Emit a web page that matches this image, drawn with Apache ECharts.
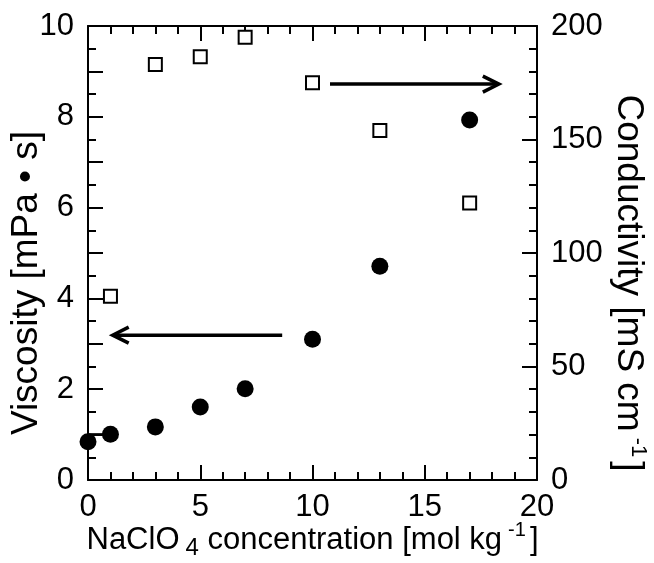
<!DOCTYPE html>
<html>
<head>
<meta charset="utf-8">
<script src="https://cdn.jsdelivr.net/npm/echarts@6/dist/echarts.min.js"></script>
<style>
html,body{margin:0;padding:0;background:#fff;}
#chart{width:654px;height:563px;}
</style>
</head>
<body>
<div id="chart"></div>
<script>
// ---- data ----
const viscosityX = [0, 1, 3, 5, 7, 10, 13, 17];
const viscosity = [0.84, 1.01, 1.17, 1.61, 2.01, 3.10, 4.71, 7.93];
const conductivityX = [1, 3, 5, 7, 10, 13, 17];
const conductivity = [81, 183, 186.5, 195, 175, 154, 122];
const connectorX = [0, 1];
const connectorY = [1.01, 1.01];
// arrows: [x start, y start, x end (tip), y end] on viscosity axis
const arrowToLeft = [8.65, 3.19, 1.1, 3.19];
const arrowToRight = [10.78, 8.72, 18.3, 8.72];
const xTicks = [0, 5, 10, 15, 20];
const yLeftTicks = [0, 2, 4, 6, 8, 10];
const yRightTicks = [0, 50, 100, 150, 200];

const FONT = 'Liberation Sans, Arial, sans-serif';
const chart = echarts.init(document.getElementById('chart'));

const axisCommon = {
  axisLine: {show: true, onZero: false, lineStyle: {color: '#000', width: 2}},
  axisTick: {show: true, inside: true, length: 15, lineStyle: {color: '#000', width: 2}},
  minorTick: {show: true, length: 8, lineStyle: {color: '#000', width: 2}},
  splitLine: {show: false},
  minorSplitLine: {show: false},
  nameMoveOverlap: false
};

const pair = (xs, ys) => xs.map((x, i) => [x, ys[i]]);

function renderArrow(params, api) {
  const p1 = api.coord([api.value(0), api.value(1)]);
  const p2 = api.coord([api.value(2), api.value(3)]);
  const dx = p2[0] - p1[0], dy = p2[1] - p1[1];
  const len = Math.sqrt(dx * dx + dy * dy);
  const ux = dx / len, uy = dy / len;
  const hl = 16, hw = 8;
  const b1 = [p2[0] - ux * hl - uy * hw, p2[1] - uy * hl + ux * hw];
  const b2 = [p2[0] - ux * hl + uy * hw, p2[1] - uy * hl - ux * hw];
  const style = {stroke: '#000', lineWidth: 3.5, fill: null};
  return {
    type: 'group',
    children: [
      {type: 'line', shape: {x1: p1[0], y1: p1[1], x2: p2[0] - ux * 1.5, y2: p2[1]}, style: style},
      {type: 'polyline', shape: {points: [b1, p2, b2]}, style: style}
    ]
  };
}

const option = {
  backgroundColor: '#fff',
  animation: false,
  textStyle: {fontFamily: FONT},
  grid: {left: 88, right: 117, top: 26, bottom: 83, containLabel: false, outerBoundsMode: 'none'},
  xAxis: [
    Object.assign({}, axisCommon, {
      type: 'value', min: 0, max: 20, interval: 5, position: 'bottom',
      minorTick: Object.assign({}, axisCommon.minorTick, {splitNumber: 5}),
      axisLabel: {color: '#000', fontSize: 31, fontFamily: FONT, margin: 12,
        formatter: v => xTicks.includes(v) ? String(v) : ''},
      name: '{a|NaClO}{sub|4}{a| concentration [mol kg}{sup|-1}{a|]}',
      nameLocation: 'middle', nameGap: 40,
      nameTextStyle: {
        color: '#000', fontFamily: FONT,
        rich: {
          a: {fontSize: 31, fontFamily: FONT, color: '#000', lineHeight: 40, verticalAlign: 'middle'},
          sub: {fontSize: 24, fontFamily: FONT, color: '#000', lineHeight: 24, verticalAlign: 'bottom', padding: [0, 0, 0, 6]},
          sup: {fontSize: 20, fontFamily: FONT, color: '#000', lineHeight: 20, verticalAlign: 'top', padding: [0, 4, 0, 6]}
        }
      }
    }),
    Object.assign({}, axisCommon, {
      type: 'value', min: 0, max: 20, interval: 5, position: 'top',
      minorTick: Object.assign({}, axisCommon.minorTick, {splitNumber: 5}),
      axisLabel: {show: false}
    })
  ],
  yAxis: [
    Object.assign({}, axisCommon, {
      type: 'value', min: 0, max: 10, interval: 1, position: 'left',
      minorTick: Object.assign({}, axisCommon.minorTick, {splitNumber: 2}),
      axisLabel: {color: '#000', fontSize: 31, fontFamily: FONT, margin: 14,
        formatter: v => yLeftTicks.includes(v) ? String(v) : ''},
      name: 'Viscosity [mPa • s]',
      nameLocation: 'middle', nameGap: 43, nameRotate: 90,
      nameTextStyle: {color: '#000', fontSize: 37, fontFamily: FONT, padding: [0, 60, 0, 0]}
    }),
    Object.assign({}, axisCommon, {
      type: 'value', min: 0, max: 200, interval: 50, position: 'right',
      minorTick: Object.assign({}, axisCommon.minorTick, {splitNumber: 5}),
      axisLabel: {color: '#000', fontSize: 31, fontFamily: FONT, margin: 14,
        formatter: v => yRightTicks.includes(v) ? String(v) : ''},
      name: '{a|Conductivity [mS cm}{sup|-1}{a|]}',
      nameLocation: 'middle', nameGap: 70, nameRotate: -90,
      nameTextStyle: {
        color: '#000', fontFamily: FONT, padding: [0, 0, 0, 60],
        rich: {
          a: {fontSize: 37, fontFamily: FONT, color: '#000', lineHeight: 42, verticalAlign: 'middle'},
          sup: {fontSize: 22, fontFamily: FONT, color: '#000', lineHeight: 22, verticalAlign: 'top', padding: [0, 4, 0, 6]}
        }
      }
    })
  ],
  series: [
    {
      type: 'line', xAxisIndex: 0, yAxisIndex: 0,
      data: pair(connectorX, connectorY), showSymbol: false, symbol: 'none',
      lineStyle: {color: '#000', width: 2}, silent: true, z: 2
    },
    {
      type: 'scatter', xAxisIndex: 0, yAxisIndex: 1,
      data: pair(conductivityX, conductivity),
      symbol: 'rect', symbolSize: 13,
      itemStyle: {color: '#fff', borderColor: '#000', borderWidth: 2, opacity: 1}, z: 3
    },
    {
      type: 'scatter', xAxisIndex: 0, yAxisIndex: 0,
      data: pair(viscosityX, viscosity),
      symbol: 'circle', symbolSize: 17,
      itemStyle: {color: '#000', opacity: 1}, z: 4
    },
    {
      type: 'custom', xAxisIndex: 0, yAxisIndex: 0,
      data: [arrowToLeft, arrowToRight],
      renderItem: renderArrow, silent: true, z: 5
    }
  ]
};
chart.setOption(option);
</script>
</body>
</html>
